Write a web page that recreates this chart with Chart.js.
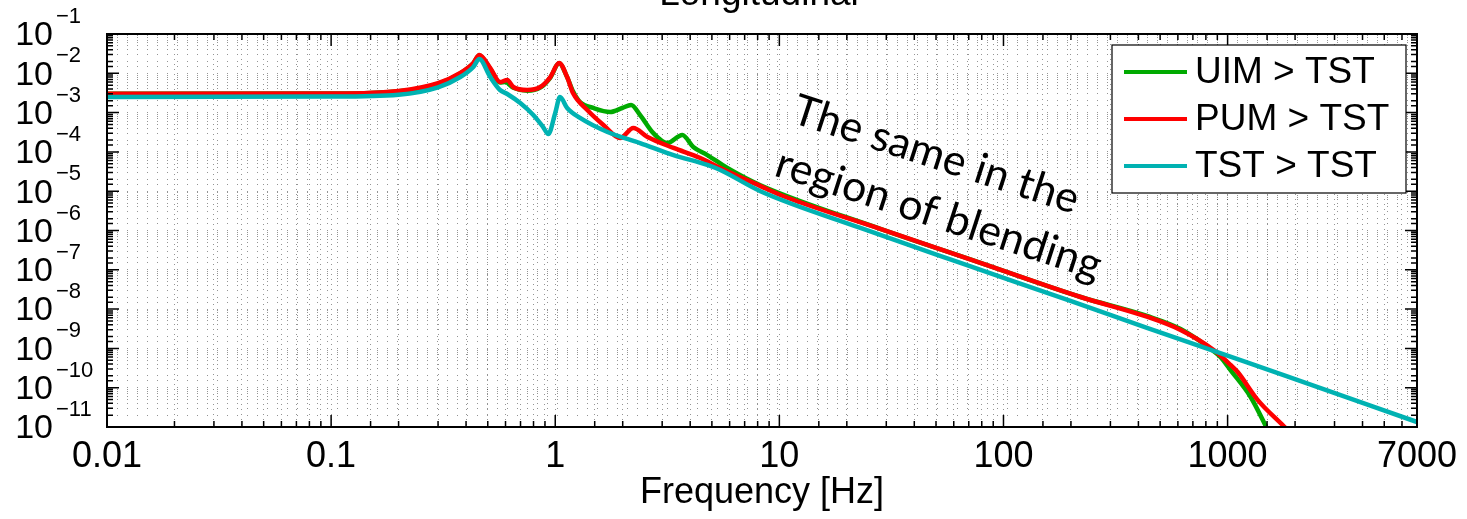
<!DOCTYPE html>
<html>
<head>
<meta charset="utf-8">
<script src="https://cdn.jsdelivr.net/npm/chart.js@4.4.1/dist/chart.umd.min.js"></script>
<style>
  html, body { margin: 0; padding: 0; background: #fff; }
  canvas { display: block; }
</style>
</head>
<body>
<canvas id="chart" width="1467" height="519"></canvas>
<script>
// values (Hz, magnitude)
const uimFreq = [0.01, 0.1, 0.2, 0.3, 0.377, 0.431, 0.458, 0.513, 0.567, 0.598, 0.65, 0.75, 0.857, 0.951, 1.04, 1.13, 1.2, 1.29, 1.48, 1.76, 1.99, 2.18, 2.39, 2.74, 3.16, 3.69, 4.13, 4.77, 5.86, 8.23, 28.2, 78.9, 221, 440, 617, 867, 931, 1031, 1267, 1479, 1700];
const uimMag = [3.0e-3, 3.05e-3, 3.5e-3, 5.4e-3, 1.0e-2, 1.8e-2, 2.85e-2, 1.3e-2, 5.8e-3, 6.0e-3, 4.3e-3, 3.6e-3, 4.3e-3, 7.8e-3, 1.8e-2, 8.0e-3, 3.5e-3, 1.86e-3, 1.31e-3, 1.04e-3, 1.31e-3, 1.56e-3, 8.7e-4, 3.0e-4, 1.68e-4, 2.7e-4, 1.33e-4, 8.3e-5, 3.9e-5, 1.42e-5, 1.1e-6, 1.5e-7, 2.03e-8, 6.6e-9, 3.1e-9, 8.5e-10, 6.0e-10, 2.8e-10, 5.8e-11, 1.06e-11, 2e-12];

const pumFreq = [0.01, 0.1, 0.2, 0.3, 0.377, 0.431, 0.458, 0.513, 0.567, 0.611, 0.65, 0.75, 0.857, 0.951, 1.04, 1.13, 1.2, 1.39, 1.64, 1.95, 2.23, 2.58, 3.37, 4.44, 5.45, 8.23, 10.1, 28.2, 78.9, 221, 440, 617, 867, 1031, 1109, 1361, 1778, 2500];
const pumMag = [3.0e-3, 3.05e-3, 3.55e-3, 5.6e-3, 1.02e-2, 1.83e-2, 2.92e-2, 1.36e-2, 6.0e-3, 6.76e-3, 4.48e-3, 3.76e-3, 4.48e-3, 8.05e-3, 1.83e-2, 8.05e-3, 3.15e-3, 1.16e-3, 4.83e-4, 2.26e-4, 4.06e-4, 2.39e-4, 1.26e-4, 7.0e-5, 3.89e-5, 1.35e-5, 8.0e-6, 1.1e-6, 1.5e-7, 2.03e-8, 6.3e-9, 2.94e-9, 9.1e-10, 3.8e-10, 2.5e-10, 4.9e-11, 1.06e-11, 1.5e-12];

const tstFreq = [0.01, 0.1, 0.2, 0.3, 0.377, 0.431, 0.458, 0.513, 0.567, 0.611, 0.698, 0.798, 0.883, 0.931, 1.0, 1.05, 1.13, 1.29, 1.71, 2.39, 3.37, 4.77, 5.45, 8.23, 23, 64.3, 199, 440, 867, 1778, 7000];
const tstMag = [2.5e-3, 2.55e-3, 2.85e-3, 4.4e-3, 8.05e-3, 1.45e-2, 2.31e-2, 8.05e-3, 3.76e-3, 2.97e-3, 1.75e-3, 8.7e-4, 4.3e-4, 2.85e-4, 9.8e-4, 2.49e-3, 1.31e-3, 7.3e-4, 3.2e-4, 1.68e-4, 8.3e-5, 4.65e-5, 3.46e-5, 1.0e-5, 1.16e-6, 1.49e-7, 1.61e-8, 3.3e-9, 8.6e-10, 2.1e-10, 1.34e-11];

const seriesLabels = ['UIM > TST', 'PUM > TST', 'TST > TST'];
const seriesColors = ['#00aa00', '#ff0000', '#00b2b2'];
const xTickLabels = ['0.01', '0.1', '1', '10', '100', '1000', '7000'];
const yExponents = [-1, -2, -3, -4, -5, -6, -7, -8, -9, -10, -11];
const titleText = 'Longitudinal';
const xTitle = 'Frequency [Hz]';
const noteLines = ['The same in the', 'region of blending'];

const FONT = "'Liberation Sans', Arial, sans-serif";

function toPoints(fs, ms) {
  return fs.map((f, i) => ({ x: f, y: ms[i] }));
}

function isDecade(v) {
  const l = Math.log10(v);
  return Math.abs(l - Math.round(l)) < 1e-6;
}

// box, inward ticks
const framePlugin = {
  id: 'frame',
  afterDatasetsDraw(chart) {
    const { ctx, chartArea: a, scales: { x, y } } = chart;
    ctx.save();
    ctx.strokeStyle = '#000';
    ctx.lineWidth = 1.5;
    ctx.beginPath();
    x.ticks.forEach(t => {
      const px = x.getPixelForValue(t.value);
      const len = isDecade(t.value) ? 12 : 6;
      ctx.moveTo(px, a.bottom); ctx.lineTo(px, a.bottom - len);
      ctx.moveTo(px, a.top); ctx.lineTo(px, a.top + len);
    });
    y.ticks.forEach(t => {
      const py = y.getPixelForValue(t.value);
      const len = isDecade(t.value) ? 12 : 6;
      ctx.moveTo(a.left, py); ctx.lineTo(a.left + len, py);
      ctx.moveTo(a.right, py); ctx.lineTo(a.right - len, py);
    });
    ctx.stroke();
    ctx.lineWidth = 2;
    ctx.strokeRect(a.left, a.top, a.right - a.left, a.bottom - a.top);
    ctx.restore();
  }
};

// 10^n labels with superscript exponents
const yLabelPlugin = {
  id: 'ylabels',
  afterDraw(chart) {
    const { ctx, chartArea: a, scales: { y } } = chart;
    ctx.save();
    ctx.fillStyle = '#000';
    yExponents.forEach(e => {
      const py = y.getPixelForValue(Math.pow(10, e));
      ctx.font = `34px ${FONT}`;
      ctx.textAlign = 'right';
      ctx.textBaseline = 'middle';
      ctx.fillText('10', a.left - 54, py + 2);
      ctx.font = `22px ${FONT}`;
      ctx.textAlign = 'left';
      ctx.fillText('\u2212' + (-e), a.left - 51, py - 17);
    });
    ctx.restore();
  }
};

const legendPlugin = {
  id: 'boxLegend',
  afterDraw(chart) {
    const { ctx, chartArea: a } = chart;
    const w = 294, h = 148;
    const left = a.right - 11 - w, top = a.top + 11;
    ctx.save();
    ctx.fillStyle = '#fff';
    ctx.fillRect(left, top, w, h);
    ctx.strokeStyle = '#000';
    ctx.lineWidth = 1.2;
    ctx.strokeRect(left, top, w, h);
    ctx.font = `37px ${FONT}`;
    ctx.textAlign = 'left';
    ctx.textBaseline = 'middle';
    chart.data.datasets.forEach((ds, i) => {
      const cy = top + 27 + i * 47;
      ctx.strokeStyle = ds.borderColor;
      ctx.lineWidth = 4;
      ctx.beginPath();
      ctx.moveTo(left + 12, cy);
      ctx.lineTo(left + 75, cy);
      ctx.stroke();
      ctx.fillStyle = '#000';
      ctx.fillText(ds.label, left + 83, cy + 1);
    });
    ctx.restore();
  }
};

const textPlugin = {
  id: 'texts',
  afterDraw(chart) {
    const { ctx, chartArea: a } = chart;
    ctx.save();
    ctx.fillStyle = '#000';
    ctx.font = `37px ${FONT}`;
    ctx.textAlign = 'center';
    ctx.textBaseline = 'alphabetic';
    ctx.fillText(titleText, (a.left + a.right) / 2 - 3, 5);

    // rotated note
    let size = 44;
    ctx.font = `${size}px Lato`;
    size = size * 340 / ctx.measureText(noteLines[1]).width;
    ctx.font = `${size}px Lato`;
    ctx.translate(790, 122);
    ctx.rotate(18 * Math.PI / 180);
    ctx.textAlign = 'left';
    noteLines.forEach((t, i) => ctx.fillText(t, 0, i * 56));
    ctx.restore();
  }
};

const gridColor = 'rgba(0,0,0,0.42)';

new Chart(document.getElementById('chart'), {
  type: 'line',
  data: {
    datasets: [
      { label: seriesLabels[0], data: toPoints(uimFreq, uimMag), borderColor: seriesColors[0], order: 2 },
      { label: seriesLabels[1], data: toPoints(pumFreq, pumMag), borderColor: seriesColors[1], order: 1 },
      { label: seriesLabels[2], data: toPoints(tstFreq, tstMag), borderColor: seriesColors[2], order: 0 }
    ]
  },
  options: {
    responsive: false,
    animation: false,
    devicePixelRatio: 1,
    layout: { padding: { left: 0, right: 50, top: 34, bottom: 0 } },
    elements: {
      line: { borderWidth: 4.5, cubicInterpolationMode: 'monotone', fill: false },
      point: { radius: 0 }
    },
    datasets: { line: { clip: 0 } },
    plugins: { legend: { display: false }, tooltip: { enabled: false } },
    scales: {
      x: {
        type: 'logarithmic',
        min: 0.01,
        max: 7000,
        afterFit(s) { s.height = 92; },
        grid: { color: gridColor, lineWidth: 1, drawTicks: false },
        border: { display: false, dash: [1, 4] },
        ticks: {
          autoSkip: false,
          maxRotation: 0,
          padding: 8,
          color: '#000',
          font: { family: FONT, size: 36 },
          callback(v) {
            const s = String(+Number(v).toPrecision(6));
            return xTickLabels.includes(s) ? s : '';
          }
        },
        title: { display: true, text: xTitle, color: '#000', font: { family: FONT, size: 36 }, padding: 4 }
      },
      y: {
        type: 'logarithmic',
        min: 1e-11,
        max: 1e-1,
        afterFit(s) { s.width = 107; },
        grid: { color: gridColor, lineWidth: 1, drawTicks: false },
        border: { display: false, dash: [1, 9] },
        ticks: { display: false, autoSkip: false }
      }
    }
  },
  plugins: [framePlugin, yLabelPlugin, legendPlugin, textPlugin]
});
</script>
</body>
</html>
